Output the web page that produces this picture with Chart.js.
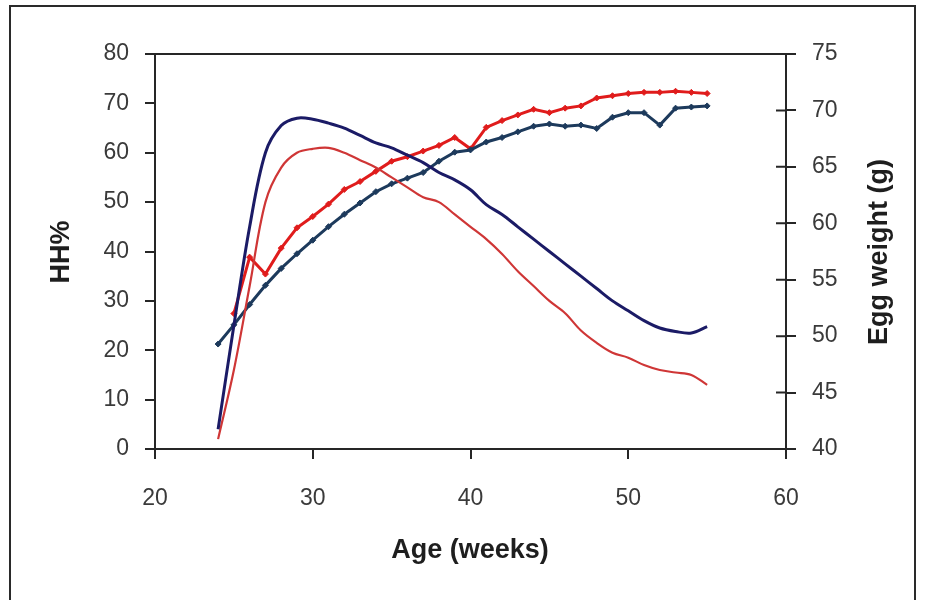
<!DOCTYPE html>
<html>
<head>
<meta charset="utf-8">
<script src="https://cdn.jsdelivr.net/npm/chart.js@4.4.1/dist/chart.umd.min.js"></script>
<style>
  html, body { margin: 0; padding: 0; background: #fff; }
  #wrap { position: relative; width: 927px; height: 600px; overflow: hidden; }
  #frame { position: absolute; left: 9px; top: 5px; width: 907px; height: 620px; border: 2px solid #2a2a2a; box-sizing: border-box; }
  #chart { position: absolute; left: 0; top: 0; }
</style>
</head>
<body>
<div id="wrap">
  <div id="frame"></div>
  <canvas id="chart" width="927" height="600"></canvas>
</div>
<script>
// Age in weeks
const weeks = [24, 25, 26, 27, 28, 29, 30, 31, 32, 33, 34, 35, 36, 37, 38, 39,
               40, 41, 42, 43, 44, 45, 46, 47, 48, 49, 50, 51, 52, 53, 54, 55];

// HH% (left axis)
const hhBlue = [4, 25, 45, 60, 65.5, 67, 66.8, 66, 65, 63.5, 62, 61, 59.5, 58, 56, 54.5,
                52.5, 49.5, 47.5, 45, 42.5, 40, 37.5, 35, 32.5, 30, 28, 26, 24.5, 23.8, 23.5, 24.8];
const hhRed = [2, 16, 33, 50, 57, 60, 60.8, 61, 60, 58.5, 57, 55, 53, 51, 50, 47.5,
               45, 42.5, 39.5, 36, 33, 30, 27.5, 24, 21.5, 19.5, 18.5, 17, 16, 15.5, 15, 13];

// Egg weight in g (right axis)
const eggBlue = [49.3, 51, 52.8, 54.5, 56, 57.3, 58.5, 59.7, 60.8, 61.8, 62.8, 63.5, 64, 64.5, 65.5, 66.3,
                 66.5, 67.2, 67.6, 68.1, 68.6, 68.8, 68.6, 68.7, 68.4, 69.4, 69.8, 69.8, 68.7, 70.2, 70.3, 70.4];
const eggRed = [null, 52, 57, 55.5, 57.8, 59.6, 60.6, 61.7, 63, 63.7, 64.6, 65.5, 65.9, 66.4, 66.9, 67.6,
                66.6, 68.5, 69.1, 69.6, 70.1, 69.8, 70.2, 70.4, 71.1, 71.3, 71.5, 71.6, 71.6, 71.7, 71.6, 71.5];

const xTicks = [20, 30, 40, 50, 60];
const hhTicks = [0, 10, 20, 30, 40, 50, 60, 70, 80];
const eggTicks = [40, 45, 50, 55, 60, 65, 70, 75];

const xTitle = 'Age (weeks)';
const hhTitle = 'HH%';
const eggTitle = 'Egg weight (g)';

function toPoints(values) {
    return weeks.map((w, i) => ({ x: w, y: values[i] }));
}

const FONT = '"Liberation Sans", Arial, sans-serif';
const AXIS = '#262626';

// draws plot box top, inner half of right ticks and the axis titles
const decor = {
    id: 'decor',
    afterDraw(chart) {
        const ctx = chart.ctx;
        const a = chart.chartArea;
        const yr = chart.scales.yEgg;
        ctx.save();
        ctx.strokeStyle = AXIS;
        ctx.lineWidth = 2;
        ctx.beginPath();
        ctx.moveTo(a.left - 10, a.top);
        ctx.lineTo(a.right, a.top);
        eggTicks.forEach(t => {
            if (t === 40 || t === 75) return;
            const y = yr.getPixelForValue(t);
            ctx.moveTo(a.right - 10, y);
            ctx.lineTo(a.right, y);
        });
        ctx.stroke();

        ctx.fillStyle = '#1e1e1e';
        ctx.font = 'bold 27px ' + FONT;
        ctx.textAlign = 'center';
        ctx.textBaseline = 'middle';
        ctx.fillText(xTitle, 470, 551);

        ctx.translate(62, 252);
        ctx.rotate(-Math.PI / 2);
        ctx.fillText(hhTitle, 0, 0);
        ctx.restore();

        ctx.save();
        ctx.fillStyle = '#1e1e1e';
        ctx.font = 'bold 27px ' + FONT;
        ctx.textAlign = 'center';
        ctx.textBaseline = 'middle';
        ctx.translate(880, 252);
        ctx.rotate(-Math.PI / 2);
        ctx.fillText(eggTitle, 0, 0);
        ctx.restore();
    }
};

const ctx = document.getElementById('chart').getContext('2d');
new Chart(ctx, {
    type: 'line',
    data: {
        datasets: [
            {
                label: 'HH% blue',
                data: toPoints(hhBlue),
                yAxisID: 'yHH',
                borderColor: '#1b1b66',
                borderWidth: 3,
                pointRadius: 0,
                tension: 0.35
            },
            {
                label: 'HH% red',
                data: toPoints(hhRed),
                yAxisID: 'yHH',
                borderColor: '#cf3636',
                borderWidth: 2.2,
                pointRadius: 0,
                tension: 0.35
            },
            {
                label: 'Egg weight blue',
                data: toPoints(eggBlue),
                yAxisID: 'yEgg',
                borderColor: '#1d3a5c',
                backgroundColor: '#1d3a5c',
                borderWidth: 3,
                pointStyle: 'rectRot',
                pointRadius: 3,
                pointBorderWidth: 1,
                tension: 0
            },
            {
                label: 'Egg weight red',
                data: toPoints(eggRed),
                yAxisID: 'yEgg',
                borderColor: '#e01c1c',
                backgroundColor: '#e01c1c',
                borderWidth: 3,
                pointStyle: 'rectRot',
                pointRadius: 3,
                pointBorderWidth: 1,
                tension: 0,
                spanGaps: false
            }
        ]
    },
    options: {
        responsive: false,
        animation: false,
        layout: { padding: { top: 54, left: 0, right: 0, bottom: 0 } },
        plugins: {
            legend: { display: false },
            tooltip: { enabled: false }
        },
        scales: {
            x: {
                type: 'linear',
                min: 20,
                max: 60,
                afterFit: s => { s.height = 151; },
                afterBuildTicks: s => { s.ticks = xTicks.map(v => ({ value: v })); },
                grid: { drawOnChartArea: false, color: AXIS, lineWidth: 2, tickLength: 10 },
                border: { color: AXIS, width: 2 },
                ticks: { color: '#3a3a3a', font: { family: FONT, size: 23 }, padding: 26, maxRotation: 0 },
                title: { display: false, text: xTitle }
            },
            yHH: {
                position: 'left',
                min: 0,
                max: 80,
                afterFit: s => { s.width = 155; },
                afterBuildTicks: s => { s.ticks = hhTicks.map(v => ({ value: v })); },
                grid: { drawOnChartArea: false, color: AXIS, lineWidth: 2, tickLength: 10 },
                border: { color: AXIS, width: 2 },
                ticks: { color: '#3a3a3a', font: { family: FONT, size: 23 }, padding: 16 },
                title: { display: false, text: hhTitle }
            },
            yEgg: {
                position: 'right',
                min: 40,
                max: 75,
                afterFit: s => { s.width = 141; },
                afterBuildTicks: s => { s.ticks = eggTicks.map(v => ({ value: v })); },
                grid: { drawOnChartArea: false, color: AXIS, lineWidth: 2, tickLength: 10 },
                border: { color: AXIS, width: 2 },
                ticks: { color: '#3a3a3a', font: { family: FONT, size: 23 }, padding: 16 },
                title: { display: false, text: eggTitle }
            }
        }
    },
    plugins: [decor]
});
</script>
</body>
</html>
